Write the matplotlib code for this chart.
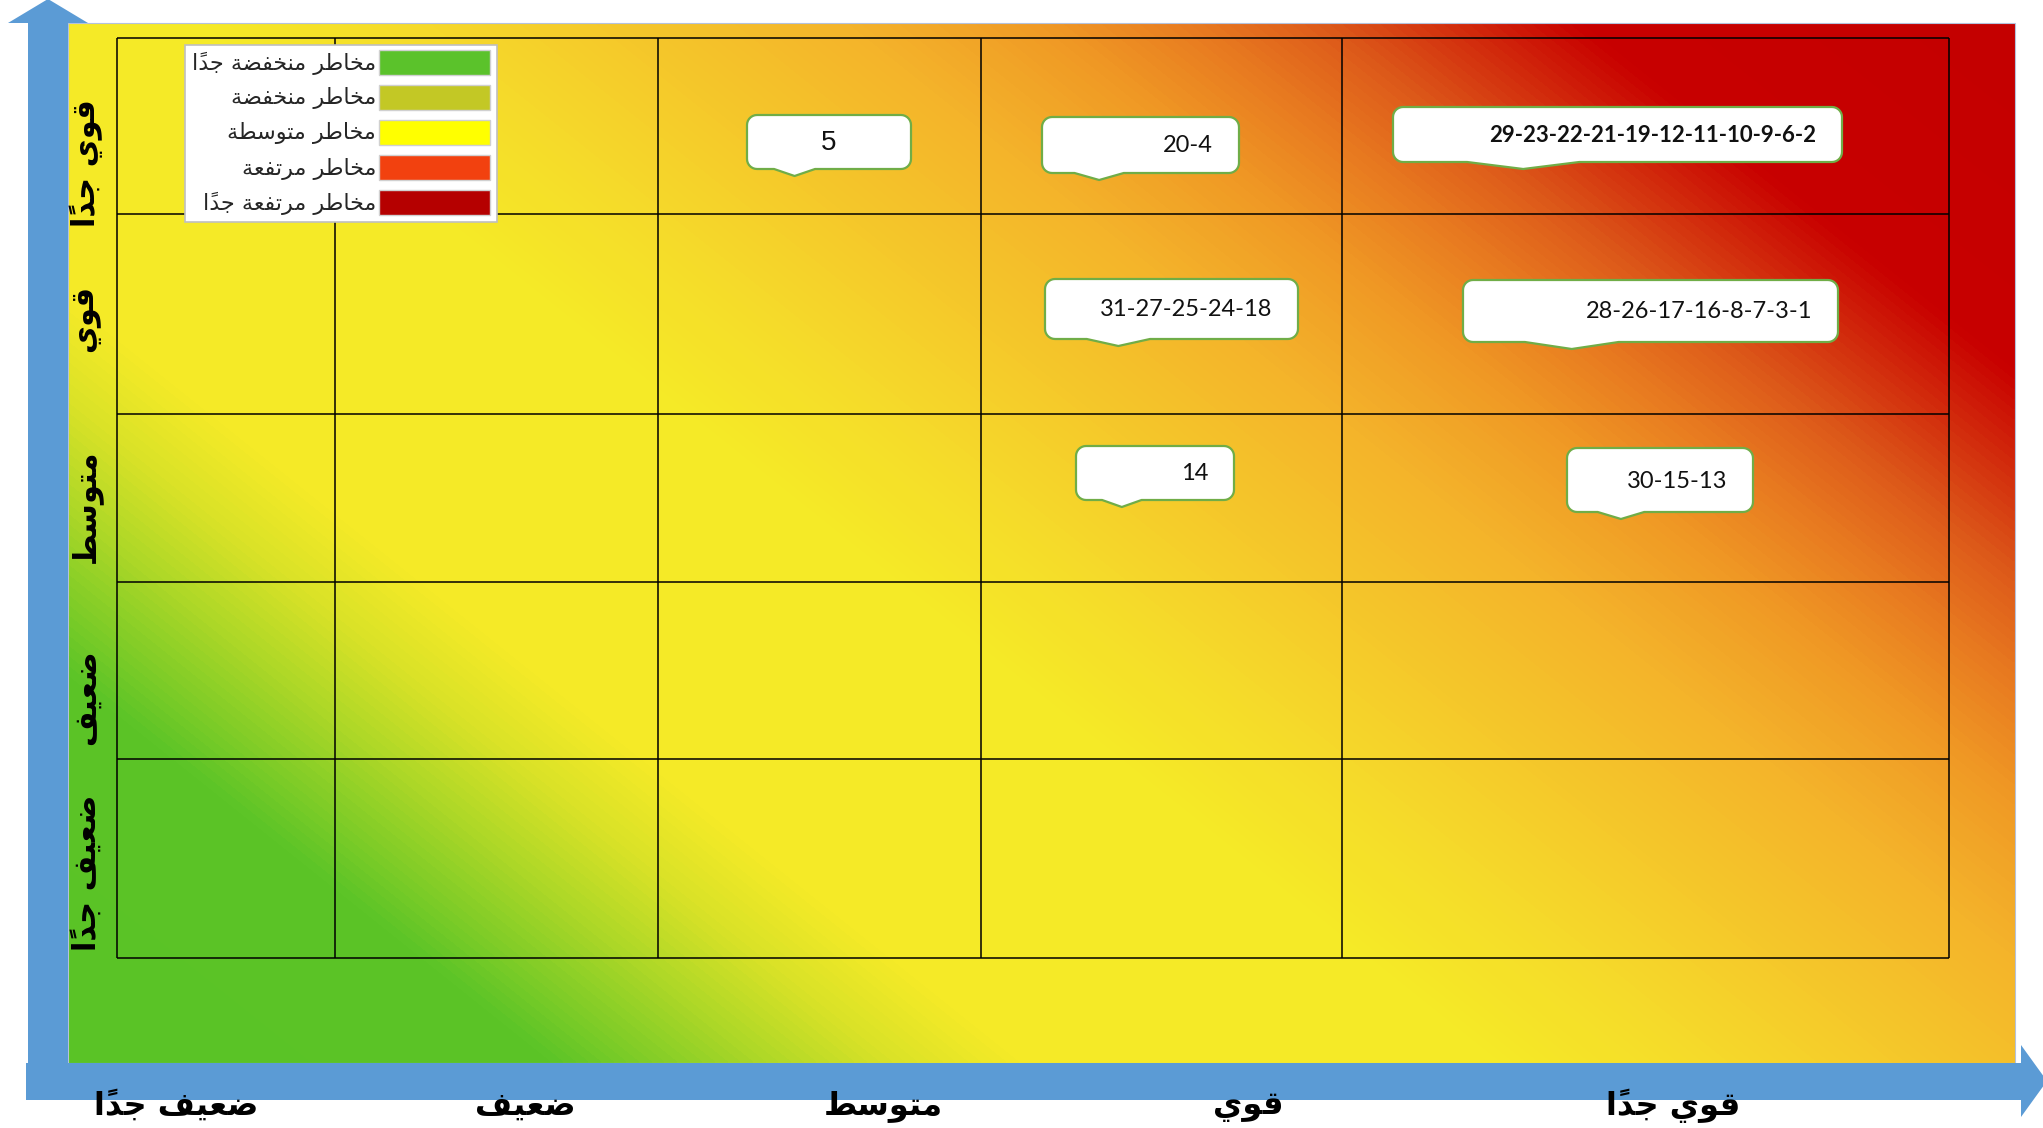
import numpy as np
import matplotlib
matplotlib.use("Agg")
import matplotlib.pyplot as plt
from matplotlib.colors import LinearSegmentedColormap
from matplotlib.patches import Polygon, Rectangle

# --- DATA ---
# impact / likelihood levels (x: left -> right, y: bottom -> top)
X_LEVELS = ["ضعيف جداً", "ضعيف", "متوسط", "قوي", "قوي جداً"]
Y_LEVELS = ["ضعيف جداً", "ضعيف", "متوسط", "قوي", "قوي جداً"]

RISK_NAMES = ["مخاطر منخفضة جداً", "مخاطر منخفضة", "مخاطر متوسطة",
              "مخاطر مرتفعة", "مخاطر مرتفعة جداً"]
RISK_COLORS = ["#5BC22B", "#C3C825", "#FFFF00", "#F2410F", "#B50000"]

# risks placed in the matrix (column index, row index counted from the top)
CALLOUT_TEXT = ["5", "20-4", "29-23-22-21-19-12-11-10-9-6-2",
                "31-27-25-24-18", "28-26-17-16-8-7-3-1", "14", "30-15-13"]
CALLOUT_COL = [2, 3, 4, 3, 4, 3, 4]
CALLOUT_ROW = [0, 0, 0, 1, 1, 2, 2]
CALLOUT_BOLD = [False, False, True, False, False, False, False]

# --- LAYOUT (pixels of the 2043x1128 canvas) ---
W, H = 2043, 1128
BG = (68, 23, 2015, 1063)                  # gradient panel
X_EDGES = [117, 335, 658, 981, 1342, 1949]
Y_EDGES = [38, 214, 414, 582, 759, 958]
# callout box offset from its cell corner + size: dx, dy, w, h
CALLOUT_BOX = [(89, 77, 164, 54), (61, 79, 197, 56), (51, 69, 449, 55),
               (64, 65, 253, 60), (121, 66, 375, 62), (95, 32, 158, 54),
               (225, 34, 186, 64)]
XLAB_POS = [176, 525, 883, 1248, 1673]
YLAB_POS = [873, 697, 506, 319, 163]
BLUE = "#5B9BD5"

# --- Arabic shaping (matplotlib has no complex text layout) ---
FORMS = {  # isolated, final, initial, medial
    "\u0627": (0xFE8D, 0xFE8E, None, None),
    "\u0629": (0xFE93, 0xFE94, None, None),
    "\u062A": (0xFE95, 0xFE96, 0xFE97, 0xFE98),
    "\u062C": (0xFE9D, 0xFE9E, 0xFE9F, 0xFEA0),
    "\u062E": (0xFEA5, 0xFEA6, 0xFEA7, 0xFEA8),
    "\u062F": (0xFEA9, 0xFEAA, None, None),
    "\u0631": (0xFEAD, 0xFEAE, None, None),
    "\u0633": (0xFEB1, 0xFEB2, 0xFEB3, 0xFEB4),
    "\u0636": (0xFEBD, 0xFEBE, 0xFEBF, 0xFEC0),
    "\u0637": (0xFEC1, 0xFEC2, 0xFEC3, 0xFEC4),
    "\u0639": (0xFEC9, 0xFECA, 0xFECB, 0xFECC),
    "\u0641": (0xFED1, 0xFED2, 0xFED3, 0xFED4),
    "\u0642": (0xFED5, 0xFED6, 0xFED7, 0xFED8),
    "\u0645": (0xFEE1, 0xFEE2, 0xFEE3, 0xFEE4),
    "\u0646": (0xFEE5, 0xFEE6, 0xFEE7, 0xFEE8),
    "\u0648": (0xFEED, 0xFEEE, None, None),
    "\u064A": (0xFEF1, 0xFEF2, 0xFEF3, 0xFEF4),
}
MARKS = {"\u064B"}


def ar(text):
    chars = list(text)
    out = []
    for i, ch in enumerate(chars):
        if ch not in FORMS:
            out.append(ch)
            continue
        j = i - 1
        while j >= 0 and chars[j] in MARKS:
            j -= 1
        k = i + 1
        while k < len(chars) and chars[k] in MARKS:
            k += 1
        prev_j = j >= 0 and chars[j] in FORMS and FORMS[chars[j]][2] is not None
        next_j = k < len(chars) and chars[k] in FORMS and FORMS[ch][2] is not None
        iso, fin, ini, med = FORMS[ch]
        if prev_j and next_j:
            code = med
        elif prev_j:
            code = fin
        elif next_j:
            code = ini
        else:
            code = iso
        out.append(chr(code))
    clusters = []
    for ch in out:
        if ch in MARKS and clusters:
            clusters[-1] += ch
        else:
            clusters.append(ch)
    return "".join(reversed(clusters))


def callout(x0, y0, w, h, r=10, depth=7):
    x1, y1 = x0 + w, y0 + h
    tip, half = x0 + 0.29 * w, 0.125 * w
    pts = []

    def arc(cx, cy, a0, a1):
        for a in np.linspace(a0, a1, 8):
            pts.append((cx + r * np.cos(a), cy + r * np.sin(a)))

    arc(x0 + r, y0 + r, np.pi, 1.5 * np.pi)
    arc(x1 - r, y0 + r, 1.5 * np.pi, 2 * np.pi)
    arc(x1 - r, y1 - r, 0, 0.5 * np.pi)
    pts += [(tip + half, y1), (tip, y1 + depth), (tip - half, y1)]
    arc(x0 + r, y1 - r, 0.5 * np.pi, np.pi)
    return pts


# --- FIGURE ---
fig = plt.figure(figsize=(W / 100, H / 100), dpi=100)
ax = fig.add_axes([0, 0, 1, 1])
ax.set_xlim(0, W)
ax.set_ylim(H, 0)
ax.axis("off")

# gradient background: green (bottom-left) -> yellow -> orange -> red (top-right)
TMAX = 2.5
stops = [(0.00, "#5AC326"), (0.37, "#5CC427"), (0.52, "#A8D627"),
         (0.63, "#D9E228"), (0.73, "#F5EA27"), (1.10, "#F6EA27"),
         (1.25, "#F5DC2A"), (1.42, "#F5C82A"), (1.60, "#F4B42B"),
         (1.75, "#F09A25"), (1.87, "#E87A20"), (1.97, "#DD5A1A"),
         (2.17, "#C80000"), (2.50, "#C40000")]
cmap = LinearSegmentedColormap.from_list(
    "risk", [(t / TMAX, c) for t, c in stops])
xs = np.linspace(0, 1, 600)
ys = np.linspace(1, 0, 330)
U, V = np.meshgrid(xs, ys)
T = (1.5 * U + V) / TMAX
ax.imshow(T, cmap=cmap, vmin=0, vmax=1, extent=(BG[0], BG[2], BG[3], BG[1]),
          aspect="auto", interpolation="bilinear", zorder=1)
ax.add_patch(Rectangle((BG[0], BG[1]), BG[2] - BG[0], BG[3] - BG[1],
                       fill=False, ec="#B4C2DC", lw=0.8, zorder=1.5))

# blue axis arrows
ax.add_patch(Polygon([(28, 1100), (28, 23), (8, 23), (48, -1), (88, 23),
                      (68, 23), (68, 1100)], closed=True, fc=BLUE, ec="none", zorder=2))
ax.add_patch(Polygon([(26, 1063), (2021, 1063), (2021, 1045), (2047, 1081),
                      (2021, 1117), (2021, 1100), (26, 1100)], closed=True,
                     fc=BLUE, ec="none", zorder=2))

# matrix grid
ax.vlines(X_EDGES, Y_EDGES[0], Y_EDGES[-1], colors="black", lw=1.1, zorder=3)
ax.hlines(Y_EDGES, X_EDGES[0], X_EDGES[-1], colors="black", lw=1.1, zorder=3)

# callouts
for txt, c, r, bold, (dx, dy, w, h) in zip(CALLOUT_TEXT, CALLOUT_COL, CALLOUT_ROW,
                                           CALLOUT_BOLD, CALLOUT_BOX):
    x0, y0 = X_EDGES[c] + dx, Y_EDGES[r] + dy
    ax.add_patch(Polygon(callout(x0, y0, w, h), closed=True, fc="white",
                         ec="#70AD47", lw=1.6, joinstyle="round", zorder=4))
    if txt == "5":
        ax.text(x0 + w / 2, y0 + h / 2 + 1, txt, ha="center", va="center",
                fontsize=20, family="Liberation Sans", color="#111111", zorder=5)
    else:
        ax.text(x0 + w - 26, y0 + h / 2 + 1, txt, ha="right", va="center",
                fontsize=16 if bold else 17, family="Lato",
                weight="bold" if bold else "normal", color="#111111", zorder=5)

# legend
ax.add_patch(Rectangle((185, 45), 312, 177, fc="white", ec="#BFBFBF", lw=1.2, zorder=4))
for i, (name, col) in enumerate(zip(RISK_NAMES, RISK_COLORS)):
    yc = 62 + i * 35.2
    ax.add_patch(Rectangle((379, yc - 12.5), 111, 25, fc=col, ec="#D0D0D0",
                           lw=1.0, zorder=5))
    ax.text(376, yc + 1, ar(name), ha="right", va="center", fontsize=16,
            family=["DejaVu Sans"], color="#262626", zorder=5)

# axis level labels
for lab, x in zip(X_LEVELS, XLAB_POS):
    ax.text(x, 1106, ar(lab), ha="center", va="center", fontsize=23,
            weight="bold", family=["DejaVu Sans"], color="black", zorder=6)
for lab, y in zip(Y_LEVELS, YLAB_POS):
    ax.text(86, y, ar(lab), ha="center", va="center", fontsize=22, rotation=90,
            weight="bold", family=["DejaVu Sans"], color="black", zorder=6)

fig.savefig("out.png", dpi=100, facecolor="white")
